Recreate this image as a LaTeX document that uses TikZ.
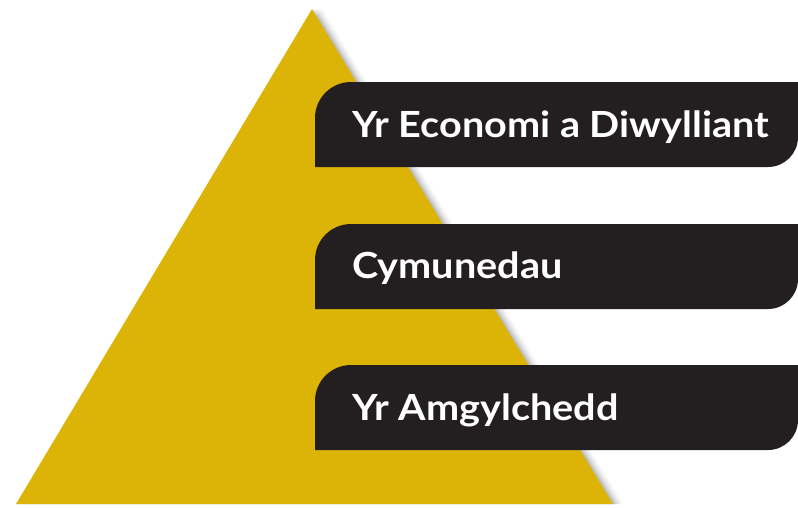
\documentclass[tikz,border=0pt]{standalone}
\usepackage{fontspec}
\setmainfont{Lato}
\newfontfamily\bandfont{Lato}[FakeStretch=1.1]
\begin{document}
\begin{tikzpicture}[x=1pt,y=-1pt,
  band/.style={fill=boxblack},
  bandtext/.style={anchor=base west,text=white,font=\bandfont\fontsize{36}{42}\selectfont\bfseries,inner sep=0pt}]
\definecolor{gold}{HTML}{DCB307}
\definecolor{boxblack}{HTML}{231F20}
\useasboundingbox (0,0) rectangle (798,507);
% soft shadow
\foreach \d/\o in {10/0.03,8/0.04,6/0.05,4/0.07,2/0.09}{
  \fill[black,opacity=\o] (312+\d,9) -- (613+\d,504) -- (16+\d,504) -- cycle;
}
\fill[gold] (312,9) -- (613,504) -- (16,504) -- cycle;
% bands
\foreach \t/\b/\n in {82/167/a,224/309/b,365/450/c}{
  \fill[band] (315,\b) -- (315,\t+36) arc[start angle=180,end angle=270,radius=36] -- (798,\t) -- (798,\b-30) arc[start angle=0,end angle=90,radius=30] -- cycle;
}
\node[bandtext] (ta) at (352,137) {Yr Economi a Diwylliant};
\node[bandtext] (tb) at (352,278) {Cymunedau};
\node[bandtext] (tc) at (352,420) {Yr Amgylchedd};
\end{tikzpicture}
\end{document}
